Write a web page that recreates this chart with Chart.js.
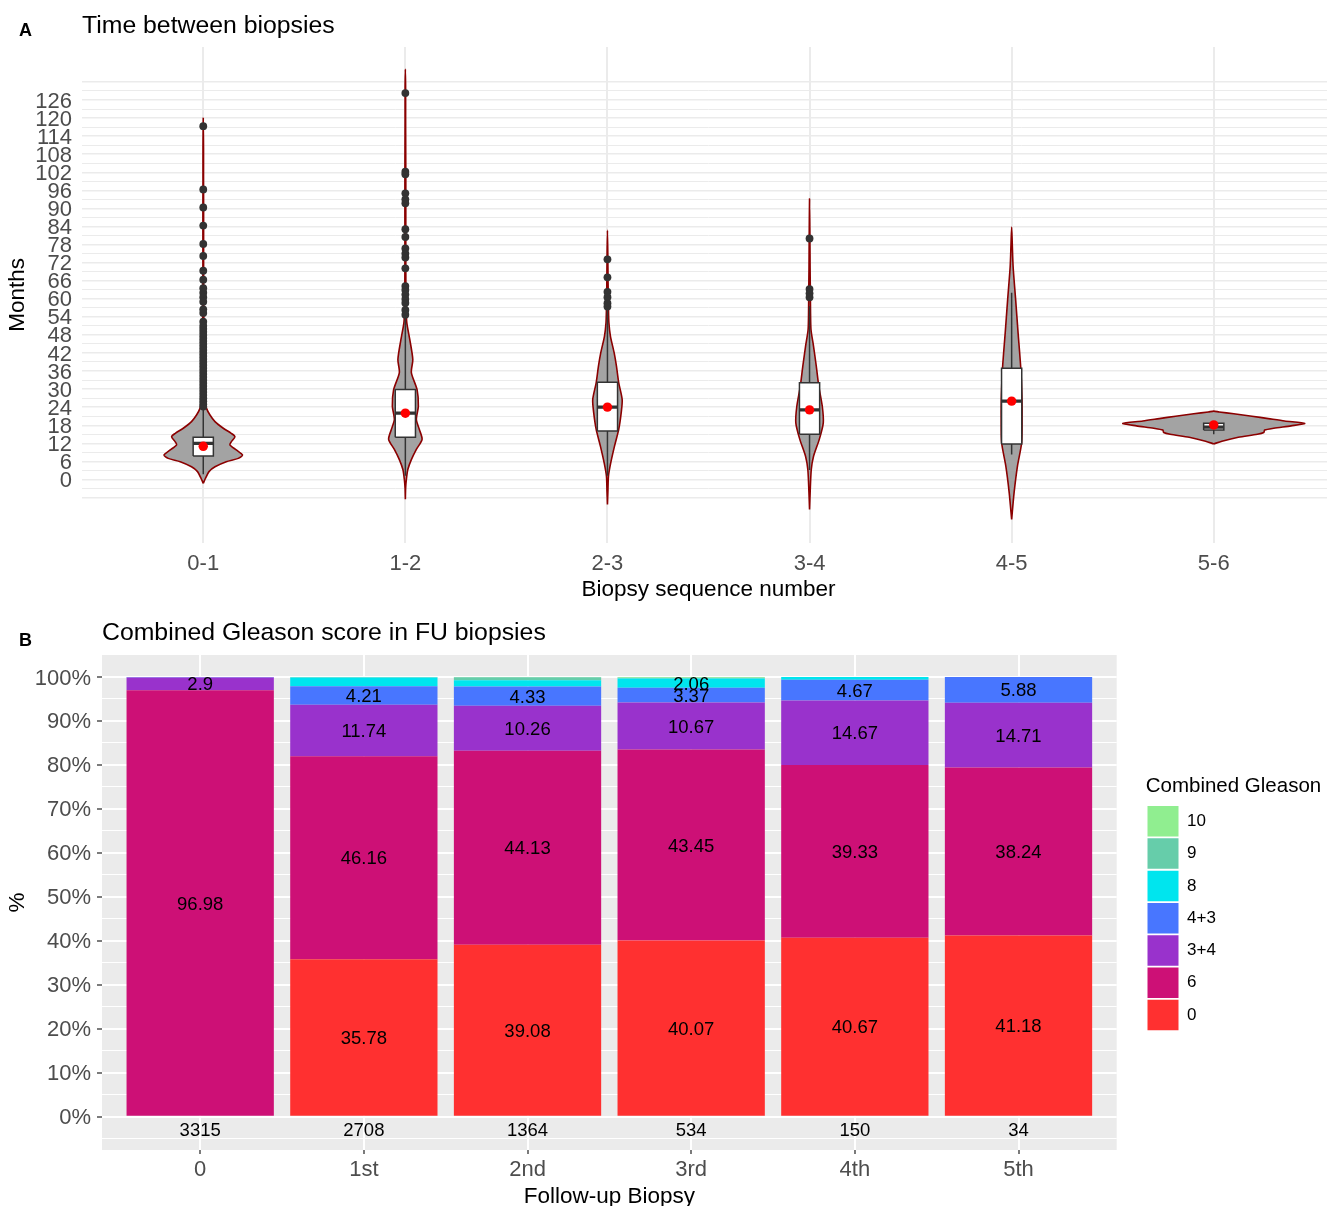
<!DOCTYPE html>
<html>
<head>
<meta charset="utf-8">
<title>Biopsy intervals and Gleason scores</title>
<script src="https://cdn.jsdelivr.net/npm/chart.js@4.4.1/dist/chart.umd.min.js"></script>
<style>
  html, body { margin: 0; padding: 0; background: #ffffff; }
  body { width: 1327px; height: 1206px; overflow: hidden; position: relative;
         font-family: "Liberation Sans", Arial, sans-serif; }
  canvas { position: absolute; left: 0; }
  #violin { top: 0; width: 1340px; height: 605px; }
  #gleason { top: 600px; width: 1340px; height: 612px; }
  .tag { position: absolute; left: 19px; font-weight: bold; font-size: 18px; line-height: 22px; color: #000; }
</style>
</head>
<body>
<canvas id="violin" width="1340" height="605"></canvas>
<canvas id="gleason" width="1340" height="612"></canvas>
<div class="tag" style="top:19px">A</div>
<div class="tag" style="top:629px">B</div>
<script>
Chart.defaults.font.family = '"Liberation Sans", Arial, sans-serif';
Chart.defaults.color = '#000000';

// ---------- Panel A: months between consecutive biopsies ----------
const intervals = ['0-1', '1-2', '2-3', '3-4', '4-5', '5-6'];
const monthTickValues = [0, 6, 12, 18, 24, 30, 36, 42, 48, 54, 60, 66, 72, 78, 84, 90, 96, 102, 108, 114, 120, 126];
const monthTickLabels = ['0', '6', '12', '18', '24', '30', '36', '42', '48', '54', '60', '66', '72', '78', '84', '90', '96', '102', '108', '114', '120', '126'];

const boxQ1       = [7.8, 14.0, 16.1, 15.0, 11.8, 16.4];
const boxMedian   = [12.0, 22.0, 24.0, 23.1, 26.0, 17.4];
const boxQ3       = [14.0, 29.9, 32.3, 32.1, 36.9, 18.7];
const whiskerLow  = [1.7, 1.2, 1.2, 3.1, 8.3, 15.0];
const whiskerHigh = [23.5, 53.9, 56.5, 57.5, 62.0, 18.7];
const meanMonths  = [11.0, 22.0, 24.0, 23.1, 26.0, 18.1];

const outliers01 = [117.3, 96.3, 90.3, 84.3, 78.2, 74.2, 69.3, 66.3, 63.5, 62.0, 60.5, 59.0, 56.5, 55.3,
                    52.4, 51, 50, 49, 48, 47, 46, 45, 44, 43, 42, 41, 40, 39, 38, 37, 36, 35, 34, 33,
                    32, 31, 30, 29, 28, 27, 26, 25, 24.2];
const outliers12 = [128.3, 102.2, 101.3, 95.0, 93.0, 91.7, 83.1, 80.5, 76.7, 75.0, 73.7, 70.1,
                    64.2, 62.9, 61.4, 59.9, 58.6, 56.3, 54.7];
const outliers23 = [73.1, 67.1, 62.3, 60.5, 58.5, 57.4];
const outliers34 = [80.0, 63.2, 61.8, 60.5];
const outliers45 = [];
const outliers56 = [];

// violin outlines: [months, relative density]
const violin01 = [[-1.3, 0], [0.4, 0.025], [2.6, 0.063], [4.2, 0.129], [5.9, 0.253], [7.0, 0.385], [8.1, 0.432],
                  [9.8, 0.363], [11.5, 0.293], [12.5, 0.308], [14.2, 0.348], [15.3, 0.308], [17.0, 0.22],
                  [19.2, 0.129], [21.4, 0.074], [23.6, 0.036], [26, 0.02], [30, 0.013], [40, 0.009],
                  [50, 0.007], [60, 0.005], [70, 0.004], [80, 0.004], [90, 0.004], [100, 0.003],
                  [110, 0.003], [120, 0]];
const violin12 = [[-6.6, 0], [-3, 0.003], [0, 0.011], [3.3, 0.027], [6.6, 0.066], [10, 0.121], [13.3, 0.184],
                  [16.6, 0.154], [19.9, 0.121], [24.3, 0.143], [29.8, 0.129], [35.5, 0.066], [39.8, 0.082],
                  [46.4, 0.049], [52, 0.016], [56, 0.009], [60, 0.007], [70, 0.005], [85, 0.005],
                  [100, 0.005], [110, 0.004], [120, 0.003], [130, 0.003], [136.2, 0]];
const violin23 = [[-8.3, 0], [-4, 0.005], [1.1, 0.011], [5.5, 0.036], [11, 0.077], [16.6, 0.124], [22.1, 0.151],
                  [26.5, 0.162], [32.1, 0.124], [37.6, 0.099], [42, 0.074], [47.5, 0.033], [52, 0.016],
                  [57, 0.011], [65, 0.007], [75, 0.004], [82.7, 0]];
const violin34 = [[-10, 0], [-4, 0.007], [3.3, 0.019], [7.7, 0.044], [13.3, 0.107], [18.8, 0.151], [24.3, 0.14],
                  [30.9, 0.102], [37.6, 0.074], [44.2, 0.044], [49.7, 0.016], [55, 0.011], [62, 0.009],
                  [70, 0.006], [80, 0.004], [93.2, 0]];
const violin45 = [[-13.3, 0], [-4.4, 0.027], [4.4, 0.064], [12.2, 0.11], [20, 0.115], [28, 0.113], [37.6, 0.099],
                  [48.6, 0.071], [59.7, 0.044], [70.7, 0.016], [78, 0.007], [83.8, 0]];
const violin56 = [[11.8, 0], [12.7, 0.09], [14.0, 0.27], [15.0, 0.48], [15.6, 0.55], [16.4, 0.56], [17.0, 0.66],
                  [17.8, 0.85], [18.6, 1.0], [19.4, 0.78], [20.2, 0.6], [21.0, 0.42], [21.8, 0.22],
                  [22.4, 0.06], [22.7, 0]];

// ---------- Panel B: combined Gleason score per follow-up biopsy (%) ----------
const visits = ['0', '1st', '2nd', '3rd', '4th', '5th'];
const visitCounts = [3315, 2708, 1364, 534, 150, 34];
const gleasonGroups = ['0', '6', '3+4', '4+3', '8', '9', '10'];
const gleasonColors = ['#FF3030', '#CD1076', '#9932CC', '#4876FF', '#00E5EE', '#66CDAA', '#90EE90'];
const pctScore0  = [0, 35.78, 39.08, 40.07, 40.67, 41.18];
const pctScore6  = [96.98, 46.16, 44.13, 43.45, 39.33, 38.24];
const pctScore34 = [2.9, 11.74, 10.26, 10.67, 14.67, 14.71];
const pctScore43 = [0.12, 4.21, 4.33, 3.37, 4.67, 5.88];
const pctScore8  = [0, 1.96, 1.47, 2.06, 0.66, 0];
const pctScore9  = [0, 0.11, 0.66, 0.19, 0, 0];
const pctScore10 = [0, 0.04, 0.07, 0.19, 0, 0];
const pctTickValues = [0, 10, 20, 30, 40, 50, 60, 70, 80, 90, 100];
const pctTickLabels = ['0%', '10%', '20%', '30%', '40%', '50%', '60%', '70%', '80%', '90%', '100%'];

// ---------- drawing ----------
const VIOLIN_HALF = 0.45;
const BOX_HALF = 0.05;
const TICK_GREY = '#4D4D4D';
const INK = '#333333';
const TEXT_NUDGE = 1.5;   // visual centring of canvas text with middle baseline

const violinProfiles = [violin01, violin12, violin23, violin34, violin45, violin56];
const outlierGroups = [outliers01, outliers12, outliers23, outliers34, outliers45, outliers56];

const violinSets = violinProfiles.map((prof, i) => {
  const right = prof.map(([m, d]) => ({ x: i + d * VIOLIN_HALF, y: m }));
  const left = prof.slice().reverse().map(([m, d]) => ({ x: i - d * VIOLIN_HALF, y: m }));
  return {
    data: right.concat(left.slice(1)),
    showLine: true, fill: 'shape', tension: 0.25,
    backgroundColor: '#A3A3A3', borderColor: '#8B0000', borderWidth: 1.6,
    borderJoinStyle: 'round', pointRadius: 0, order: 6
  };
});

const whiskerPts = [];
intervals.forEach((g, i) => {
  whiskerPts.push({ x: i, y: whiskerLow[i] }, { x: i, y: boxQ1[i] }, { x: i, y: null },
                  { x: i, y: boxQ3[i] }, { x: i, y: whiskerHigh[i] }, { x: i, y: null });
});

const boxSets = intervals.map((g, i) => ({
  data: [
    { x: i - BOX_HALF, y: boxQ1[i] }, { x: i + BOX_HALF, y: boxQ1[i] },
    { x: i + BOX_HALF, y: boxQ3[i] }, { x: i - BOX_HALF, y: boxQ3[i] },
    { x: i - BOX_HALF, y: boxQ1[i] }
  ],
  showLine: true, fill: 'shape', backgroundColor: '#FFFFFF', borderColor: INK,
  borderWidth: 1.5, pointRadius: 0, order: 4
}));

const medianPts = [];
intervals.forEach((g, i) => {
  medianPts.push({ x: i - BOX_HALF, y: boxMedian[i] }, { x: i + BOX_HALF, y: boxMedian[i] }, { x: i, y: null });
});

const outlierPts = [];
outlierGroups.forEach((list, i) => list.forEach(v => outlierPts.push({ x: i, y: v })));

const gridMonths = [];
for (let m = -6; m <= 132; m += 3) gridMonths.push(m);

new Chart(document.getElementById('violin'), {
  type: 'scatter',
  data: {
    datasets: [
      ...violinSets,
      { data: whiskerPts, showLine: true, borderColor: INK, borderWidth: 1.5, pointRadius: 0, order: 5 },
      ...boxSets,
      { data: medianPts, showLine: true, borderColor: INK, borderWidth: 3.2, borderCapStyle: 'butt', pointRadius: 0, order: 3 },
      { data: outlierPts, pointRadius: 3.9, pointBackgroundColor: INK, pointBorderWidth: 0, order: 2 },
      { data: meanMonths.map((v, i) => ({ x: i, y: v })), pointRadius: 4.7, pointBackgroundColor: '#FF0000', pointBorderWidth: 0, order: 1 }
    ]
  },
  options: {
    responsive: false, animation: false, events: [], devicePixelRatio: 1,
    layout: { padding: { left: 0, right: 5, top: 0, bottom: 0 } },
    plugins: {
      legend: { display: false },
      tooltip: { enabled: false },
      title: {
        display: true, text: 'Time between biopsies', align: 'start', fullSize: false,
        color: '#000000', font: { size: 24.8, weight: 'normal' }, padding: { top: 10.8, bottom: 6.4 }
      }
    },
    scales: {
      x: {
        type: 'linear', min: -0.6, max: 5.6,
        afterBuildTicks: s => { s.ticks = intervals.map((g, i) => ({ value: i })); },
        afterFit: s => { s.height = 62.3; },
        ticks: { autoSkip: false, maxRotation: 0, padding: 7.8, color: TICK_GREY, font: { size: 22 },
                 callback: v => intervals[v] },
        grid: { color: '#EBEBEB', lineWidth: 2, drawTicks: false },
        border: { display: false },
        title: { display: true, text: 'Biopsy sequence number', color: '#000000', font: { size: 22.5 },
                 padding: { top: 0, bottom: 1.7 } }
      },
      y: {
        type: 'linear', min: -21, max: 143.6,
        afterBuildTicks: s => { s.ticks = gridMonths.map(v => ({ value: v })); },
        afterFit: s => { s.width = 82; },
        ticks: { autoSkip: false, padding: 10, labelOffset: TEXT_NUDGE, color: TICK_GREY, font: { size: 22 },
                 callback: v => { const k = monthTickValues.indexOf(v); return k >= 0 ? monthTickLabels[k] : ''; } },
        grid: { drawTicks: false, color: '#EBEBEB',
                lineWidth: c => (c.tick && c.tick.value % 6 === 0 ? 1.4 : 1) },
        border: { display: false },
        title: { display: true, text: 'Months', color: '#000000', font: { size: 22.5 },
                 padding: { top: 4.5, bottom: 0 } }
      }
    }
  }
});

// grey panel behind the bars
const panelBackground = {
  id: 'panelBackground',
  beforeDraw(chart) {
    const { ctx, chartArea: a } = chart;
    ctx.save();
    ctx.fillStyle = '#EBEBEB';
    ctx.fillRect(a.left, a.top, a.right - a.left, a.bottom - a.top);
    ctx.restore();
  }
};

// segment percentages and the number of biopsies under each bar
const barLabels = {
  id: 'barLabels',
  afterDatasetsDraw(chart) {
    const { ctx } = chart;
    ctx.save();
    ctx.font = '18.5px "Liberation Sans", Arial, sans-serif';
    ctx.fillStyle = '#000000';
    ctx.textAlign = 'center';
    ctx.textBaseline = 'middle';
    chart.data.datasets.forEach((ds, di) => {
      const meta = chart.getDatasetMeta(di);
      meta.data.forEach((bar, j) => {
        const v = ds.data[j].y;
        if (v >= 2) ctx.fillText(String(v), bar.x, (bar.y + bar.base) / 2 + TEXT_NUDGE);
      });
    });
    const yCount = chart.scales.y.getPixelForValue(-2.8) + TEXT_NUDGE;
    visitCounts.forEach((n, j) => ctx.fillText(String(n), chart.scales.x.getPixelForValue(j), yCount));
    ctx.restore();
  }
};

// fixed legend column width so the plot panel keeps its extent
const legendColumn = {
  id: 'legendColumn',
  beforeUpdate(chart) {
    const lg = chart.legend;
    if (lg && !lg.__fixedWidth) {
      const fit = lg.fit.bind(lg);
      lg.fit = () => { fit(); lg.width = 194.3; };
      lg.__fixedWidth = true;
    }
  }
};

const pctSeries = [pctScore0, pctScore6, pctScore34, pctScore43, pctScore8, pctScore9, pctScore10];
const pctGrid = [];
for (let p = -5; p <= 100; p += 5) pctGrid.push(p);

new Chart(document.getElementById('gleason'), {
  type: 'bar',
  data: {
    datasets: gleasonGroups.map((g, k) => ({
      label: g,
      data: pctSeries[k].map((v, j) => ({ x: j, y: v })),
      backgroundColor: gleasonColors[k],
      borderWidth: 0,
      barPercentage: 0.9,
      categoryPercentage: 1.0
    }))
  },
  plugins: [panelBackground, barLabels, legendColumn],
  options: {
    responsive: false, animation: false, events: [], devicePixelRatio: 1,
    layout: { padding: 0 },
    plugins: {
      tooltip: { enabled: false },
      title: {
        display: true, text: 'Combined Gleason score in FU biopsies', align: 'start', fullSize: false,
        color: '#000000', font: { size: 24.8, weight: 'normal' }, padding: { top: 17.8, bottom: 7.4 }
      },
      legend: {
        display: true, position: 'right', align: 'center', fullSize: false, reverse: true,
        title: { display: true, text: 'Combined Gleason', position: 'start', color: '#000000',
                 font: { size: 20.5 }, padding: { top: 3, bottom: 3.8 } },
        labels: { boxWidth: 31, boxHeight: 30.5, padding: 1.8, color: '#000000', font: { size: 17 } }
      }
    },
    scales: {
      x: {
        type: 'linear', stacked: true, offset: false, min: -0.6, max: 5.6,
        afterBuildTicks: s => { s.ticks = visits.map((v, i) => ({ value: i })); },
        afterFit: s => { s.height = 62; },
        ticks: { autoSkip: false, maxRotation: 0, padding: 2.5, color: TICK_GREY, font: { size: 22 },
                 callback: v => visits[v] },
        grid: { color: '#FFFFFF', lineWidth: 2, offset: false, tickColor: INK, tickLength: 4, tickWidth: 1.3 },
        border: { display: false },
        title: { display: true, text: 'Follow-up Biopsy', color: '#000000', font: { size: 22.5 },
                 padding: { top: 0, bottom: 1.6 } }
      },
      y: {
        type: 'linear', stacked: true, min: -7.57, max: 105,
        afterBuildTicks: s => { s.ticks = pctGrid.map(v => ({ value: v })); },
        afterFit: s => { s.width = 102; },
        ticks: { autoSkip: false, padding: 6, labelOffset: TEXT_NUDGE, color: TICK_GREY, font: { size: 22 },
                 callback: v => { const k = pctTickValues.indexOf(v); return k >= 0 ? pctTickLabels[k] : ''; } },
        grid: {
          color: '#FFFFFF',
          lineWidth: c => (c.tick && c.tick.value % 10 === 0 ? 2 : 1.1),
          tickColor: c => (c.tick && c.tick.value % 10 === 0 ? INK : 'rgba(0,0,0,0)'),
          tickLength: 5, tickWidth: 1.3
        },
        border: { display: false },
        title: { display: true, text: '%', color: '#000000', font: { size: 22.5 },
                 padding: { top: 4.5, bottom: 0 } }
      },
      spacer: {
        type: 'linear', position: 'right', display: true,
        afterFit: s => { s.width = 29; },
        grid: { display: false, drawTicks: false },
        ticks: { display: false },
        border: { display: false }
      }
    }
  }
});
</script>
</body>
</html>
